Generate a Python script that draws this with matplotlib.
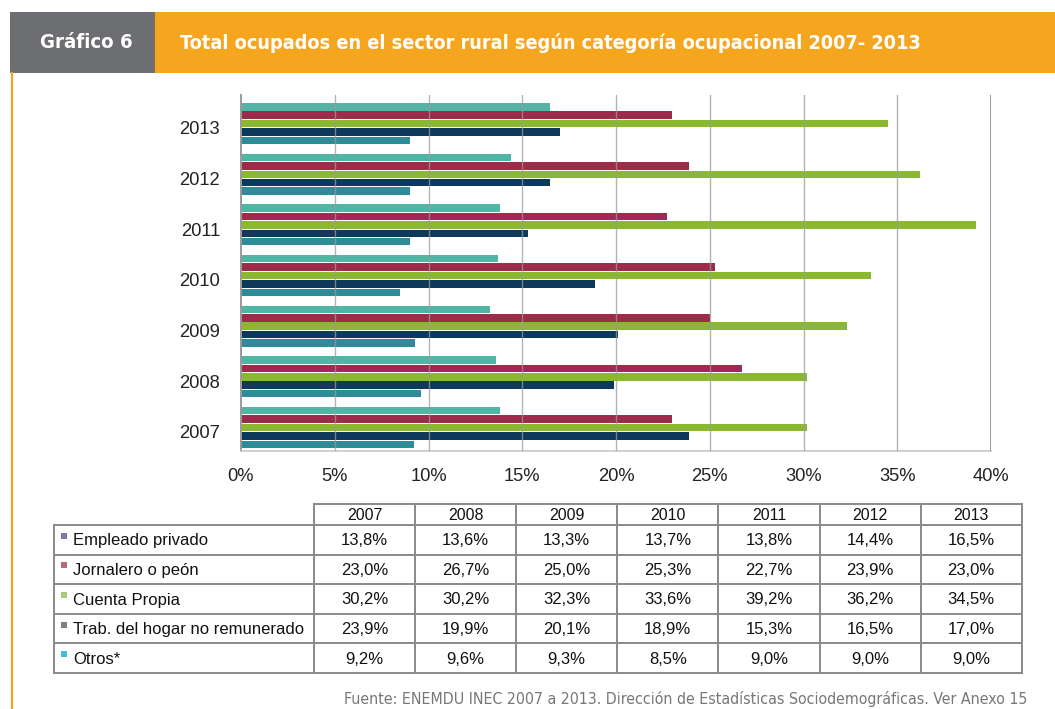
import matplotlib
matplotlib.use("Agg")
import matplotlib.pyplot as plt
from matplotlib.patches import Rectangle
from matplotlib import font_manager as fm
import numpy as np

# ---------------- data ----------------
years = [2007, 2008, 2009, 2010, 2011, 2012, 2013]
series_names = ["Empleado privado", "Jornalero o peón", "Cuenta Propia",
                "Trab. del hogar no remunerado", "Otros*"]
empleado = [13.8, 13.6, 13.3, 13.7, 13.8, 14.4, 16.5]
jornalero = [23.0, 26.7, 25.0, 25.3, 22.7, 23.9, 23.0]
cuenta = [30.2, 30.2, 32.3, 33.6, 39.2, 36.2, 34.5]
trab = [23.9, 19.9, 20.1, 18.9, 15.3, 16.5, 17.0]
otros = [9.2, 9.6, 9.3, 8.5, 9.0, 9.0, 9.0]
xticks = [0, 5, 10, 15, 20, 25, 30, 35, 40]
title = "Total ocupados en el sector rural según categoría ocupacional 2007- 2013"
badge = "Gráfico 6"
source = "Fuente: ENEMDU INEC 2007 a 2013. Dirección de Estadísticas Sociodemográficas. Ver Anexo 15"

series = [empleado, jornalero, cuenta, trab, otros]
bar_colors = ["#4fb6a6", "#9c2c4a", "#8bb833", "#0d3a5b", "#2f8b97"]
key_colors = ["#7a7fa0", "#b56a78", "#a9cc7a", "#7e7e86", "#3fbfd0"]

names = {f.name for f in fm.fontManager.ttflist}
if "Liberation Sans Narrow" in names:
    COND = dict(family="Liberation Sans Narrow")
else:
    COND = dict(family="DejaVu Sans", fontstretch="condensed")
BASE = "Liberation Sans"

W, H = 1055, 709
fig = plt.figure(figsize=(W / 100, H / 100), dpi=100)
fig.patch.set_facecolor("white")

# overlay in pixel coordinates
ov = fig.add_axes([0, 0, 1, 1], zorder=0)
ov.set_xlim(0, W)
ov.set_ylim(H, 0)
ov.axis("off")

renderer = fig.canvas.get_renderer()


def fit(t, width):
    bb = t.get_window_extent(renderer)
    t.set_fontsize(t.get_fontsize() * width / bb.width)


# header
ov.add_patch(Rectangle((10, 12), 145, 61, color="#6d6e71", lw=0))
ov.add_patch(Rectangle((155, 12), 900, 61, color="#f6a61e", lw=0))
ov.plot([11.5, 11.5], [73, 708], color="#f6a61e", lw=1.6)
t1 = ov.text(40, 43, badge, color="white", fontweight="bold", va="center",
             ha="left", fontsize=16, **COND)
fit(t1, 93)
t2 = ov.text(180, 43, title, color="white", fontweight="bold", va="center",
             ha="left", fontsize=16, **COND)
fit(t2, 745)

# ---------------- chart ----------------
ax = fig.add_axes([241 / W, 1 - 451 / H, (991 - 241) / W, (451 - 95) / H], zorder=2)
idx = np.arange(len(years))
pitch = 0.166
bh = 0.148
shift = 0.085
for k, (vals, col) in enumerate(zip(series, bar_colors)):
    ax.barh(idx + shift + (2 - k) * pitch, vals, height=bh, color=col,
            lw=0, zorder=2)
ax.set_xlim(0, 40)
ax.set_ylim(-0.38, 6.65)
ax.set_xticks(xticks)
ax.set_xticklabels([f"{v}%" for v in xticks], fontsize=13.2, family=BASE,
                   color="#222222")
ax.set_yticks(idx)
ax.set_yticklabels([str(y) for y in years], fontsize=13.2, family=BASE,
                   color="#222222")
ax.tick_params(axis="x", length=0, pad=12)
ax.tick_params(axis="y", length=0, pad=15)
for v in xticks[1:-1]:
    ax.axvline(v, color="#9a9a9a", lw=1.0, alpha=0.75, zorder=3)
ax.axvline(40, color="#a49694", lw=2.2, zorder=3)
for s in ["top", "right"]:
    ax.spines[s].set_visible(False)
ax.spines["left"].set_color("#9a9a9a")
ax.spines["left"].set_linewidth(1.4)
ax.spines["bottom"].set_color("#c8c8c8")
ax.spines["bottom"].set_linewidth(1.2)

# ---------------- table ----------------
col0, colw = 314, 101.1
ncol = len(years)
right = col0 + colw * ncol
head_top, head_bot = 504, 525
rowh = 29.6
nrow = len(series_names)
bottom = head_bot + rowh * nrow
lc, lw = "#8a8a8a", 1.4
# horizontal lines
ov.plot([col0, right], [head_top, head_top], color=lc, lw=lw)
for r in range(nrow + 1):
    yy = head_bot + r * rowh
    ov.plot([54, right], [yy, yy], color=lc, lw=lw)
# vertical lines
ov.plot([54, 54], [head_bot, bottom], color=lc, lw=lw)
for c in range(ncol + 1):
    xx = col0 + c * colw
    ov.plot([xx, xx], [head_top, bottom], color=lc, lw=lw)
for c, y in enumerate(years):
    ov.text(col0 + (c + 0.5) * colw, (head_top + head_bot) / 2 + 1, str(y),
            ha="center", va="center", fontsize=11.5, family=BASE, color="#111111")
for r, (name, vals, kc) in enumerate(zip(series_names, series, key_colors)):
    yc = head_bot + (r + 0.5) * rowh
    ov.add_patch(Rectangle((61, yc - 7), 6, 6, color=kc, lw=0))
    ov.text(73, yc + 1, name, ha="left", va="center", fontsize=12,
            family=BASE, color="#111111")
    for c, v in enumerate(vals):
        ov.text(col0 + (c + 0.5) * colw, yc + 1, f"{v:.1f}%".replace(".", ","),
                ha="center", va="center", fontsize=12, family=BASE,
                color="#111111")

# source
t3 = ov.text(1027, 699, source, ha="right", va="center", color="#777777",
             fontsize=12, **COND)
fit(t3, 687)

fig.savefig("out.png", dpi=100, facecolor="white")
